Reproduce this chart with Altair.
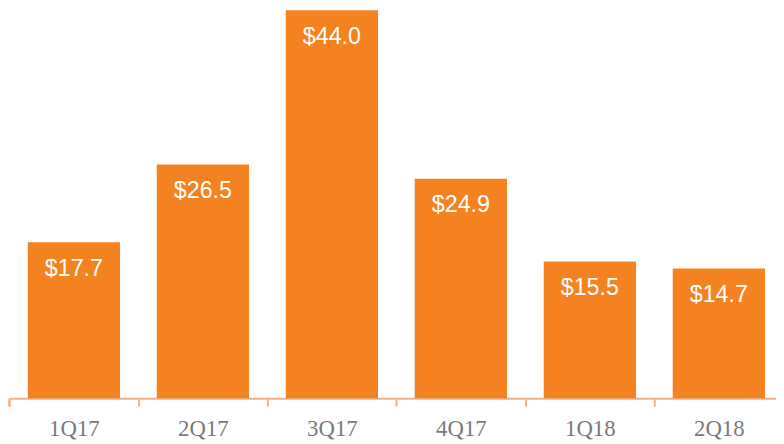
import altair as alt
import pandas as pd

quarters = ["1Q17", "2Q17", "3Q17", "4Q17", "1Q18", "2Q18"]
values = [17.7, 26.5, 44.0, 24.9, 15.5, 14.7]
labels = ["$17.7", "$26.5", "$44.0", "$24.9", "$15.5", "$14.7"]

df = pd.DataFrame({"quarter": quarters, "value": values, "label": labels})

ORANGE = "#F58220"
AXIS = "#F6AE88"

x = alt.X(
    "quarter:N",
    sort=quarters,
    title=None,
    scale=alt.Scale(paddingInner=0.285, paddingOuter=0.1157, align=0.63),
    axis=alt.Axis(
        labelAngle=0,
        labelFont="Liberation Serif",
        labelFontSize=23,
        labelColor="#7a7a7a",
        labelPadding=12,
        bandPosition=0,
        labelOffset=18.6,
        tickOffset=-18.6,
        tickExtra=True,
        domainColor=AXIS,
        domainWidth=2,
        tickColor=AXIS,
        tickWidth=2,
        tickSize=8,
    ),
)
y = alt.Y("value:Q", scale=alt.Scale(domain=[0, 44], nice=False, zero=True), axis=None)

bars = alt.Chart(df).mark_bar(color=ORANGE).encode(x=x, y=y)
text = alt.Chart(df).mark_text(
    color="white", font="Liberation Sans", fontSize=23.5, baseline="middle", dy=27
).encode(x=x, y=y, text="label:N")

chart = (
    alt.layer(bars, text)
    .properties(
        width=775,
        height=392,
        autosize=alt.AutoSizeParams(type="none"),
        padding={"left": 1, "top": 0, "right": 0, "bottom": 44},
    )
    .configure_view(strokeWidth=0)
)

chart.save("out.html", embed_options={"renderer": "svg", "actions": False})
